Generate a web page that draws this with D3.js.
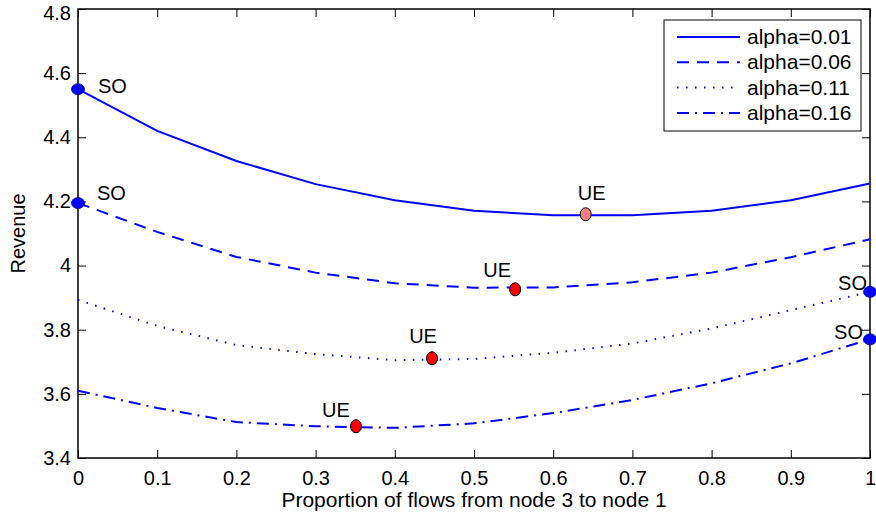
<!DOCTYPE html>
<html>
<head>
<meta charset="utf-8">
<script src="https://cdn.jsdelivr.net/npm/d3@7"></script>
<style>
body{margin:0;background:#fff}
text{font-family:"Liberation Sans",Arial,sans-serif}
</style>
</head>
<body>
<script>
var xs=[0,0.1,0.2,0.3,0.4,0.5,0.6,0.7,0.8,0.9,1]
var alphaNames=["alpha=0.01","alpha=0.06","alpha=0.11","alpha=0.16"]
var rev001=[4.55,4.42,4.326,4.254,4.204,4.171,4.157,4.157,4.171,4.204,4.256]
var rev006=[4.195,4.105,4.027,3.978,3.945,3.931,3.932,3.948,3.978,4.026,4.082]
var rev011=[3.893,3.812,3.752,3.724,3.705,3.709,3.728,3.757,3.804,3.861,3.918]
var rev016=[3.61,3.556,3.512,3.499,3.494,3.508,3.54,3.581,3.633,3.695,3.77]
var xTicks=[0,0.1,0.2,0.3,0.4,0.5,0.6,0.7,0.8,0.9,1]
var yTicks=[3.4,3.6,3.8,4,4.2,4.4,4.6,4.8]
// SO points (system optimum) and UE points (user equilibrium)
var soX=[0,0,1,1]
var soY=[4.55,4.195,3.918,3.77]
var ueX=[0.641,0.552,0.447,0.351]
var ueY=[4.16,3.926,3.711,3.499]
var ueFill=["#f08080","#ff0000","#ff0000","#ff0000"]

var series=[rev001,rev006,rev011,rev016]
var dashes=[null,"12,8","1.5,7.5","12,6,2,6"]

var screen={width:876,height:519}
var margins={top:9,right:6,bottom:61,left:78}
var width=screen.width-margins.left-margins.right
var height=screen.height-margins.top-margins.bottom

var svg=d3.select("body").append("svg")
  .attr("width",screen.width)
  .attr("height",screen.height)
var plot=svg.append("g")
  .attr("transform","translate("+margins.left+","+margins.top+")")

var xScale=d3.scaleLinear().domain([0,1]).range([0,width])
var yScale=d3.scaleLinear().domain([3.4,4.8]).range([height,0])

//axes, ticks inside like matlab
var fmt=function(d){return String(+d.toFixed(1))}
var xAxis=d3.axisBottom(xScale).tickValues(xTicks).tickSizeInner(-8).tickSizeOuter(0).tickPadding(13).tickFormat(fmt)
var yAxis=d3.axisLeft(yScale).tickValues(yTicks).tickSizeInner(-8).tickSizeOuter(0).tickPadding(7).tickFormat(fmt)
plot.append("g").attr("transform","translate(0,"+height+")").call(xAxis)
var yG=plot.append("g").call(yAxis)
plot.append("g").call(d3.axisTop(xScale).tickValues(xTicks).tickSizeInner(-8).tickSizeOuter(0).tickFormat(""))
plot.append("g").attr("transform","translate("+width+",0)")
  .call(d3.axisRight(yScale).tickValues(yTicks).tickSizeInner(-8).tickSizeOuter(0).tickFormat(""))
plot.selectAll(".domain").remove()
plot.selectAll(".tick line").attr("stroke","#000").attr("stroke-width",1)
plot.selectAll(".tick text").attr("font-size",20).attr("fill","#000")
  .style("font-family","'Liberation Sans',Arial,sans-serif")
// keep the top label inside the picture
yG.selectAll(".tick text").filter(function(d){return d===4.8}).attr("dy","0.5em")
plot.append("rect").attr("width",width).attr("height",height)
  .attr("fill","none").attr("stroke","#000").attr("stroke-width",1.5)

//lines
var line=d3.line().x(function(d,i){return xScale(xs[i])}).y(function(d){return yScale(d)})
plot.selectAll("path.curve").data(series).enter().append("path")
  .attr("class","curve")
  .attr("d",line)
  .attr("fill","none")
  .attr("stroke","#0000ff")
  .attr("stroke-width",2)
  .attr("stroke-dasharray",function(d,i){return dashes[i]})

//markers
plot.selectAll("ellipse.so").data(soX).enter().append("ellipse")
  .attr("class","so")
  .attr("cx",function(d){return xScale(d)})
  .attr("cy",function(d,i){return yScale(soY[i])})
  .attr("rx",6.5).attr("ry",5.5)
  .attr("fill","#0000ff").attr("stroke","#00008b").attr("stroke-width",0.8)
plot.selectAll("ellipse.ue").data(ueX).enter().append("ellipse")
  .attr("class","ue")
  .attr("cx",function(d){return xScale(d)})
  .attr("cy",function(d,i){return yScale(ueY[i])})
  .attr("rx",5.5).attr("ry",6.5)
  .attr("fill",function(d,i){return ueFill[i]}).attr("stroke","#000").attr("stroke-width",1)

//labels
var soDx=[20,19,-3,-7],soDy=[4,-3,-2,0],soAnchor=["start","start","end","end"]
plot.selectAll("text.so").data(soX).enter().append("text")
  .attr("class","so")
  .attr("x",function(d,i){return xScale(d)+soDx[i]})
  .attr("y",function(d,i){return yScale(soY[i])+soDy[i]})
  .attr("text-anchor",function(d,i){return soAnchor[i]})
  .attr("font-size",20)
  .text("SO")
var ueDx=[6,-18,-9,-20],ueDy=[-14,-12,-15,-9]
plot.selectAll("text.ue").data(ueX).enter().append("text")
  .attr("class","ue")
  .attr("x",function(d,i){return xScale(d)+ueDx[i]})
  .attr("y",function(d,i){return yScale(ueY[i])+ueDy[i]})
  .attr("text-anchor","middle")
  .attr("font-size",20)
  .text("UE")

//axis labels
svg.append("text")
  .attr("x",margins.left+width/2).attr("y",507)
  .attr("text-anchor","middle").attr("font-size",21)
  .text("Proportion of flows from node 3 to node 1")
svg.append("text")
  .attr("transform","translate(25,"+(margins.top+height/2)+") rotate(-90)")
  .attr("text-anchor","middle").attr("font-size",20)
  .text("Revenue")

//legend
var legend=svg.append("g").attr("transform","translate(664,20)")
legend.append("rect").attr("width",197).attr("height",111)
  .attr("fill","#fff").attr("stroke","#000").attr("stroke-width",1)
var rows=legend.selectAll("g.row").data(alphaNames).enter().append("g")
  .attr("class","row")
  .attr("transform",function(d,i){return "translate(0,"+(17+i*25.3)+")"})
rows.append("line").attr("x1",13).attr("x2",76).attr("y1",0).attr("y2",0)
  .attr("stroke","#0000ff").attr("stroke-width",2)
  .attr("stroke-dasharray",function(d,i){return dashes[i]})
rows.append("text").attr("x",83).attr("y",7).attr("font-size",21).text(function(d){return d})
</script>
</body>
</html>
